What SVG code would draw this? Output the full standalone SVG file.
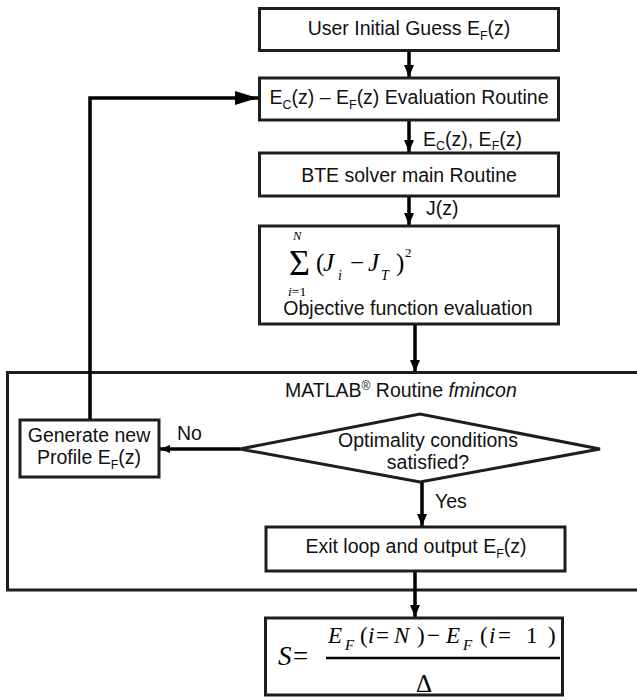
<svg xmlns="http://www.w3.org/2000/svg" width="637" height="700" viewBox="0 0 637 700">
<style>
.box{fill:#fff;stroke:#1e1e1e;stroke-width:3}
.cont{fill:#fff;stroke:#1e1e1e;stroke-width:3}
.ln{fill:none;stroke:#000;stroke-width:3.5}
.t{font-family:"Liberation Sans",Arial,sans-serif;font-size:19.5px;fill:#111}
.m{font-family:"Liberation Serif","Times New Roman",serif;fill:#000}
.i{font-style:italic}
</style>
<defs>
<marker id="ah" viewBox="0 0 12 10" refX="12" refY="5" markerWidth="12" markerHeight="10" markerUnits="userSpaceOnUse" orient="auto"><path d="M0,0L12,5L0,10z" fill="#000"/></marker>
<marker id="ahs" viewBox="0 0 10 8" refX="10" refY="4" markerWidth="10" markerHeight="8" markerUnits="userSpaceOnUse" orient="auto"><path d="M0,0L10,4L0,8z" fill="#000"/></marker>
<marker id="ahb" viewBox="0 0 23 14" refX="23" refY="7" markerWidth="23" markerHeight="14" markerUnits="userSpaceOnUse" orient="auto"><path d="M0,0L23,7L0,14z" fill="#000"/></marker>
</defs>
<rect width="637" height="700" fill="#fff"/>
<g id="container">
<rect class="cont" x="7.5" y="372.5" width="640" height="217.5"/>
<text class="t" x="285" y="397">MATLAB<tspan font-size="12" dy="-7">®</tspan><tspan dy="7"> Routine </tspan><tspan font-style="italic">fmincon</tspan></text>
</g>
<g id="connectors">
<line class="ln" x1="409" y1="51" x2="409" y2="77" marker-end="url(#ah)"/>
<line class="ln" x1="409" y1="121" x2="409" y2="152" marker-end="url(#ah)"/>
<line class="ln" x1="409" y1="197" x2="409" y2="225" marker-end="url(#ah)"/>
<line class="ln" x1="415" y1="325" x2="415" y2="372" marker-end="url(#ah)"/>
<line class="ln" x1="240" y1="449" x2="160" y2="449" marker-end="url(#ahs)"/>
<line class="ln" x1="422" y1="482" x2="422" y2="526" marker-end="url(#ah)"/>
<line class="ln" x1="415" y1="571" x2="415" y2="617" marker-end="url(#ah)"/>
<polyline class="ln" points="90,420 90,98 258,98" stroke-linejoin="miter" marker-end="url(#ahb)"/>
<text class="t" x="423" y="146">E<tspan font-size="12.5" dy="4">C</tspan><tspan dy="-4">(z), E</tspan><tspan font-size="12.5" dy="4">F</tspan><tspan dy="-4">(z)</tspan></text>
<text class="t" x="426" y="215">J(z)</text>
<text class="t" x="177" y="440">No</text>
<text class="t" x="435" y="508">Yes</text>
</g>
<g id="n1">
<rect class="box" x="259.5" y="8.5" width="299" height="42"/>
<text class="t" x="409" y="35" text-anchor="middle">User Initial Guess E<tspan font-size="12.5" dy="5">F</tspan><tspan dy="-5">(z)</tspan></text>
</g>
<g id="n2">
<rect class="box" x="259.5" y="78" width="299" height="42"/>
<text class="t" x="409" y="104" text-anchor="middle">E<tspan font-size="12.5" dy="5">C</tspan><tspan dy="-5">(z) – E</tspan><tspan font-size="12.5" dy="5">F</tspan><tspan dy="-5">(z) Evaluation Routine</tspan></text>
</g>
<g id="n3">
<rect class="box" x="259.5" y="153" width="299" height="43"/>
<text class="t" x="409" y="182" text-anchor="middle">BTE solver main Routine</text>
</g>
<g id="n4">
<rect class="box" x="259.5" y="226" width="299" height="98"/>
<text class="m i" x="293" y="240" font-size="12.5">N</text>
<text class="m" x="289" y="275" font-size="36">Σ</text>
<text class="m i" x="288" y="295.5" font-size="13.5">i<tspan font-style="normal">=1</tspan></text>
<text class="m" y="271" font-size="25"><tspan x="316">(</tspan><tspan x="323" font-style="italic">J</tspan><tspan x="350">−</tspan><tspan x="368" font-style="italic">J</tspan><tspan x="396">)</tspan></text>
<text class="m i" x="338" y="280" font-size="14">i</text>
<text class="m i" x="381" y="280" font-size="14">T</text>
<text class="m" x="405" y="257" font-size="13">2</text>
<text class="t" x="408" y="315" text-anchor="middle">Objective function evaluation</text>
</g>
<g id="n5">
<rect class="box" x="20" y="420" width="139" height="57"/>
<text class="t" x="89" y="442" text-anchor="middle">Generate new</text>
<text class="t" x="89" y="464" text-anchor="middle">Profile E<tspan font-size="12.5" dy="5">F</tspan><tspan dy="-5">(z)</tspan></text>
</g>
<g id="n6">
<polygon points="240,449 420,414 600,449 420,482" fill="#fff" stroke="#1e1e1e" stroke-width="3" stroke-linejoin="miter"/>
<text class="t" x="428" y="447" text-anchor="middle">Optimality conditions</text>
<text class="t" x="428" y="469" text-anchor="middle">satisfied?</text>
</g>
<g id="n7">
<rect class="box" x="266" y="527" width="299" height="44"/>
<text class="t" x="416" y="553" text-anchor="middle">Exit loop and output E<tspan font-size="12.5" dy="5">F</tspan><tspan dy="-5">(z)</tspan></text>
</g>
<g id="n8">
<rect class="box" x="265.5" y="618" width="297" height="77"/>
<text class="m" y="665" font-size="27"><tspan x="278" font-style="italic">S</tspan><tspan x="293">=</tspan></text>
<text class="m" y="643" font-size="23"><tspan x="328" font-style="italic">E</tspan><tspan x="360">(</tspan><tspan x="368" font-style="italic">i</tspan><tspan x="376">=</tspan><tspan x="394" font-style="italic">N</tspan><tspan x="417">)</tspan><tspan x="427">−</tspan><tspan x="446" font-style="italic">E</tspan><tspan x="480">(</tspan><tspan x="489" font-style="italic">i</tspan><tspan x="498">=</tspan><tspan x="526">1</tspan><tspan x="548">)</tspan></text>
<text class="m i" y="650" font-size="15"><tspan x="345">F</tspan><tspan x="463">F</tspan></text>
<line x1="326" y1="658" x2="560" y2="658" stroke="#000" stroke-width="2.5"/>
<text class="m" x="416" y="692" font-size="25">Δ</text>
</g>
</svg>
